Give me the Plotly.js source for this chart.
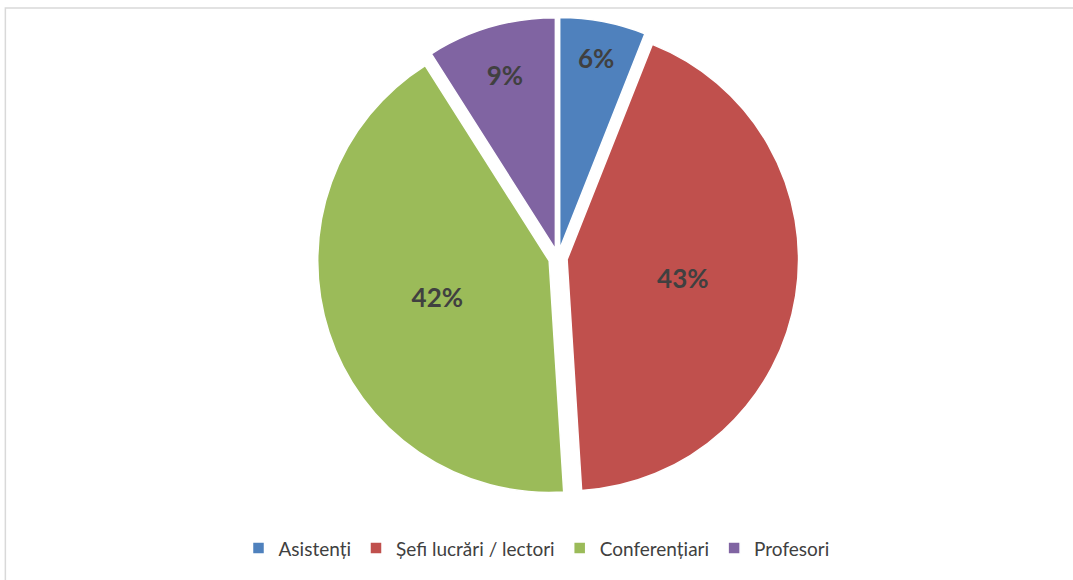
<!DOCTYPE html>
<html>
<head>
<meta charset="utf-8">
<script src="https://cdn.plot.ly/plotly-3.0.1.min.js"></script>
<style>
html,body{margin:0;padding:0;background:#fff;}
#chart{width:1073px;height:580px;}
</style>
</head>
<body>
<div id="chart"></div>
<script>
var categories = ["Asistenți", "Șefi lucrări / lectori", "Conferențiari", "Profesori"];
var values = [6, 43, 42, 9];
var colors = ["#4F81BD", "#C0504D", "#9BBB59", "#8064A2"];

var trace = {
  type: "pie",
  labels: categories,
  values: values,
  sort: false,
  direction: "clockwise",
  rotation: 0,
  pull: [0.04, 0.04, 0.04, 0.04],
  marker: {colors: colors, line: {color: "#ffffff", width: 1.5}},
  textinfo: "percent",
  texttemplate: "%{percent:.0%}",
  textposition: "inside",
  insidetextorientation: "horizontal",
  textfont: {family: "Lato, 'Open Sans', sans-serif", size: 26, color: "#404040", weight: "bold"},
  hoverinfo: "label+percent",
  domain: {x: [0.2, 0.84], y: [0.14, 0.97]}
};

var layout = {
  width: 1073,
  height: 580,
  margin: {l: 0, r: 0, t: 0, b: 0},
  paper_bgcolor: "#ffffff",
  showlegend: true,
  legend: {
    orientation: "h",
    x: 0.5, xanchor: "center",
    y: 0.022, yanchor: "bottom",
    font: {family: "Lato, 'Open Sans', sans-serif", size: 19, color: "#404040"},
    itemwidth: 30,
    traceorder: "normal"
  },
  shapes: [{
    type: "rect", xref: "paper", yref: "paper",
    x0: 0.005, x1: 1.01, y0: -0.01, y1: 0.986,
    line: {color: "#D9D9D9", width: 1.5}
  }]
};

Plotly.newPlot("chart", [trace], layout, {displayModeBar: false, staticPlot: true});
</script>
</body>
</html>
